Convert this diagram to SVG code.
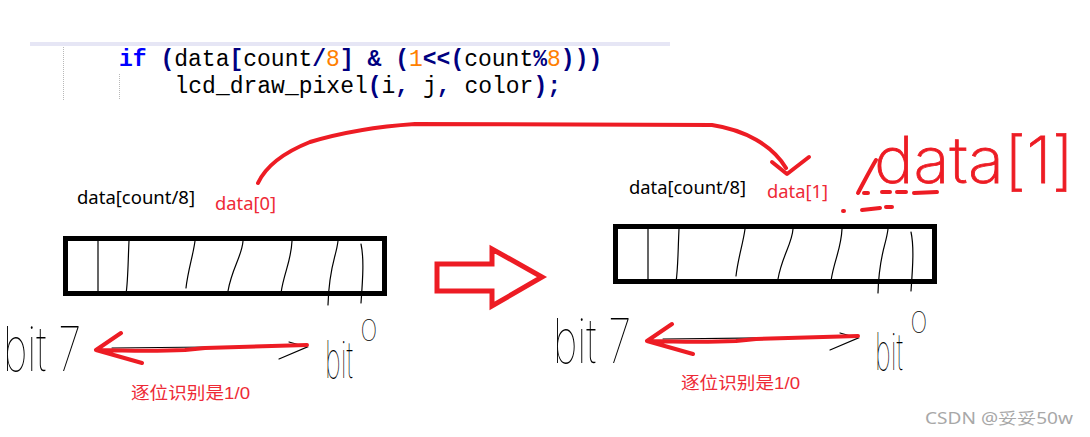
<svg xmlns="http://www.w3.org/2000/svg" width="1090" height="437" viewBox="0 0 1090 437">
<style>
.code{font-family:"Liberation Mono","Courier New",monospace;font-size:23px;fill:#000}
.kw{fill:#0000ff;font-weight:bold}
.op{fill:#000080;font-weight:bold}
.num{fill:#ff8000}
.lbl{font-family:"Noto Sans","Liberation Sans",sans-serif;font-size:18px;fill:#000}
.red{fill:#ee2a36}
.cn{font-family:"Liberation Sans","Noto Sans CJK SC",sans-serif;font-size:17px;fill:#ee2a36}
.hand{font-family:Inter,"Noto Sans","Liberation Sans",sans-serif;font-weight:100;fill:#000}
.box{fill:none;stroke:#000;stroke-width:5}
.ink{fill:none;stroke:#000;stroke-width:1.2;stroke-linecap:round}
.rs{fill:none;stroke:#ed1c24;stroke-width:4;stroke-linecap:round;stroke-linejoin:round}
</style>

<g id="code">
<rect x="30" y="42" width="640" height="4" fill="#e6e6f5"/>
<line x1="63.5" y1="47" x2="63.5" y2="100" stroke="#b8b8b8" stroke-dasharray="1 1"/>
<line x1="119.5" y1="74" x2="119.5" y2="100" stroke="#b8b8b8" stroke-dasharray="1 1"/>
<text class="code" x="119" y="66" xml:space="preserve"><tspan class="kw">if</tspan> <tspan class="op">(</tspan>data<tspan class="op">[</tspan>count<tspan class="op">/</tspan><tspan class="num">8</tspan><tspan class="op">]</tspan> <tspan class="op">&amp;</tspan> <tspan class="op">(</tspan><tspan class="num">1</tspan><tspan class="op">&lt;&lt;(</tspan>count<tspan class="op">%</tspan><tspan class="num">8</tspan><tspan class="op">)))</tspan></text>
<text class="code" x="174.5" y="93" xml:space="preserve">lcd_draw_pixel<tspan class="op">(</tspan>i<tspan class="op">,</tspan> j<tspan class="op">,</tspan> color<tspan class="op">);</tspan></text>
</g>

<g id="byte-left">
<text class="lbl" x="77" y="204" textLength="118" lengthAdjust="spacingAndGlyphs">data[count/8]</text>
<text class="lbl red" x="215" y="210" textLength="61" lengthAdjust="spacingAndGlyphs">data[0]</text>
<rect class="box" x="65.5" y="238.5" width="319" height="55"/>
<path class="ink" d="M98 241 L98 293 M129 241 C128 262 128 282 126 294 M195 241 C193 256 188 270 186 288 M243 241 C242 256 232 268 228 291 M292 241 C291 262 284 272 281 293 M338 241 C336 258 329 266 328 305 M361 244 C364 258 363 276 361 303"/>
</g>

<g id="byte-right">
<text class="lbl" x="629" y="194" textLength="117" lengthAdjust="spacingAndGlyphs">data[count/8]</text>
<text class="lbl red" x="767" y="198" textLength="61" lengthAdjust="spacingAndGlyphs">data[1]</text>
<g transform="translate(550,-12)">
<rect class="box" x="65.5" y="238.5" width="319" height="55"/>
<path class="ink" d="M98 241 L98 293 M129 241 C128 262 128 282 126 294 M195 241 C193 256 188 270 186 288 M243 241 C242 256 232 268 228 291 M292 241 C291 262 284 272 281 293 M338 241 C336 258 329 266 328 305 M361 244 C364 258 363 276 361 303"/>
</g>
</g>

<g id="bits-left">
<text class="hand" x="3" y="371" font-size="62" textLength="78" lengthAdjust="spacingAndGlyphs">bit 7</text>
<text class="hand" transform="translate(325,378) scale(1,1.9)" font-size="27">bit</text>
<text class="hand" x="360" y="341" font-size="30">0</text>
<text class="cn" x="131" y="399" textLength="119" lengthAdjust="spacingAndGlyphs">逐位识别是1/0</text>
</g>

<g id="bits-right" transform="translate(550,-8)">
<text class="hand" x="3" y="371" font-size="62" textLength="78" lengthAdjust="spacingAndGlyphs">bit 7</text>
<text class="hand" transform="translate(325,378) scale(1,1.9)" font-size="27">bit</text>
<text class="hand" x="360" y="341" font-size="30">0</text>
<text class="cn" x="131" y="397" textLength="119" lengthAdjust="spacingAndGlyphs">逐位识别是1/0</text>
</g>

<g id="note">
<text x="874" y="183" font-family="Inter,'Noto Sans','Liberation Sans',sans-serif" font-weight="200" font-size="64" fill="#ed1c24" stroke="#ed1c24" stroke-width="0.8" textLength="200" lengthAdjust="spacingAndGlyphs">data[1]</text>
</g>

<g id="connectors">
<path class="rs" d="M258 183 C266 166 285 152 310 142 C340 133 370 127 415 124 L712 125 C745 130 772 145 786 168"/>
<path class="rs" d="M772 162 L787 174 L809 157"/>
<path d="M437 264 L492 264 L492 249 L542 277 L492 306 L492 291 L437 291 Z" fill="none" stroke="#ed1c24" stroke-width="5" stroke-linejoin="miter"/>
<g id="arrow-left">
<path class="ink" d="M112 348 L307 346 M289 342 L307 347 L279 359"/>
<path class="rs" d="M96 350 C130 351 165 351 185 350 L205 348 C240 347 275 346 307 345 M96 350 L121 333 M96 350 L142 363"/>
</g>
<g transform="translate(551,-9)">
<path class="ink" d="M112 348 L307 346 M289 342 L307 347 L279 359"/>
<path class="rs" d="M96 350 C130 351 165 351 185 350 L205 348 C240 347 275 346 307 345 M96 350 L121 333 M96 350 L142 363"/>
</g>
<path class="rs" d="M858 193 C865 180 870 170 876 160 M864 193 L868 193 M882 192 L890 192 M897 192 L906 192 M914 193 L937 192 M843 211 L844 211 M862 210 L880 208 M886 207 L892 207"/>
</g>

<text x="925" y="424" font-family="'Noto Sans','Noto Sans CJK SC',sans-serif" font-size="16" fill="#a8a8a8" textLength="148" lengthAdjust="spacingAndGlyphs">CSDN @妥妥50w</text>
</svg>
